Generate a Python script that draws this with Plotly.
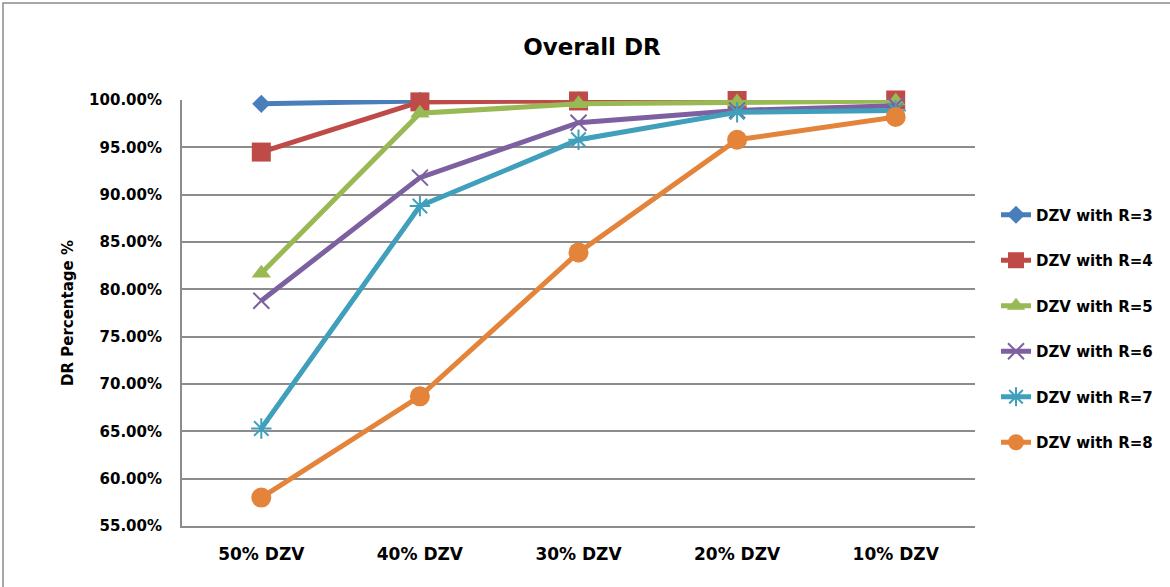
import plotly.graph_objects as go

categories = ["50% DZV", "40% DZV", "30% DZV", "20% DZV", "10% DZV"]

series_names = [
    "DZV with R=3",
    "DZV with R=4",
    "DZV with R=5",
    "DZV with R=6",
    "DZV with R=7",
    "DZV with R=8",
]

dr_r3 = [99.6, 99.9, 99.95, 99.95, 99.95]
dr_r4 = [94.5, 99.8, 99.9, 99.95, 100.0]
dr_r5 = [81.7, 98.6, 99.6, 99.8, 99.9]
dr_r6 = [78.8, 91.8, 97.6, 98.9, 99.4]
dr_r7 = [65.3, 88.8, 95.8, 98.7, 98.9]
dr_r8 = [58.0, 68.7, 83.9, 95.8, 98.2]

y_ticks = [55, 60, 65, 70, 75, 80, 85, 90, 95, 100]
y_tick_labels = ["55.00%", "60.00%", "65.00%", "70.00%", "75.00%",
                 "80.00%", "85.00%", "90.00%", "95.00%", "100.00%"]

colors = ["#4A7EBB", "#BE4B48", "#98B954", "#7D60A0", "#40A0BC", "#E3843A"]
symbols = ["diamond", "square", "triangle-up", "x-thin-open", "asterisk-open", "circle"]
sizes = [14, 19, 17, 16, 17, 20]

all_values = [dr_r3, dr_r4, dr_r5, dr_r6, dr_r7, dr_r8]

FONT = "DejaVu Sans"

fig = go.Figure()
for name, vals, col, sym, sz in zip(series_names, all_values, colors, symbols, sizes):
    open_marker = sym.endswith("-open")
    fig.add_trace(go.Scatter(
        x=categories,
        y=vals,
        name=name,
        legendgroup=name,
        mode="lines+markers",
        line=dict(color=col, width=5),
        marker=dict(
            symbol=sym,
            size=sz,
            color=col,
            line=dict(color=col, width=2 if open_marker else 0),
        ),
        cliponaxis=False,
    ))

fig.update_layout(
    width=1170,
    height=587,
    paper_bgcolor="white",
    plot_bgcolor="white",
    margin=dict(l=182, r=195, t=100, b=61),
    font=dict(family=FONT, color="black"),
    title=dict(
        text="<b>Overall DR</b>",
        font=dict(family=FONT, size=23, color="black"),
        xref="container", x=592 / 1170, xanchor="center",
        yref="container", y=1 - 47 / 587, yanchor="middle",
    ),
    legend=dict(
        x=1.0 + (996 - 975) / 793, xanchor="left", xref="paper",
        y=(526 - 328.5) / 426, yanchor="middle",
        font=dict(family=FONT, size=15, color="black", weight="bold"),
        tracegroupgap=23,
        bgcolor="rgba(0,0,0,0)",
    ),
    showlegend=True,
    shapes=[
        dict(type="rect", xref="paper", yref="paper",
             x0=(3 - 182) / 793, x1=1.6,
             y0=-0.6, y1=1 + (100 - 3) / 426,
             line=dict(color="#8C8C8C", width=1.5),
             fillcolor="rgba(0,0,0,0)", layer="below"),
    ],
)

fig.update_xaxes(
    type="category",
    range=[-0.5, 4.5],
    showgrid=False,
    showline=True,
    linecolor="#8C8C8C",
    linewidth=2,
    ticks="",
    tickfont=dict(family=FONT, size=17, color="black", weight="bold"),
    ticklabelstandoff=12,
)

fig.update_yaxes(
    range=[55, 100],
    tickvals=y_ticks,
    ticktext=y_tick_labels,
    showgrid=True,
    gridcolor="#8C8C8C",
    gridwidth=1.5,
    showline=True,
    linecolor="#8C8C8C",
    linewidth=2,
    ticks="",
    zeroline=False,
    tickfont=dict(family=FONT, size=15, color="black", weight="bold"),
    ticklabelstandoff=15,
    title=dict(
        text="<b>DR Percentage %</b>",
        font=dict(family=FONT, size=15, color="black"),
        standoff=12,
    ),
)

fig.write_html("out.html")
